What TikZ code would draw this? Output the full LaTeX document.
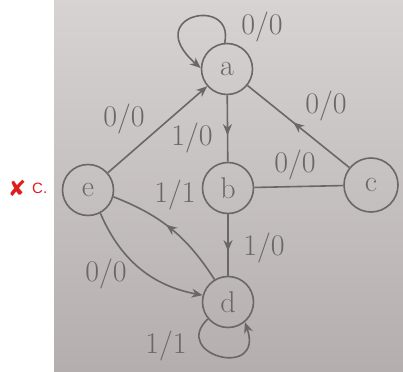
\documentclass[tikz,border=0pt]{standalone}
\usepackage{fontspec}
\newfontfamily\uisans{Liberation Sans}
\newfontfamily\symfont{DejaVu Sans}
\usetikzlibrary{arrows.meta,decorations.markings}
\definecolor{ink}{RGB}{108,103,103}
\definecolor{paperTop}{RGB}{216,211,211}
\definecolor{paperBot}{RGB}{180,174,175}
\definecolor{wrongred}{RGB}{222,30,30}
\begin{document}
\begin{tikzpicture}[x=1pt,y=-1pt,
  st/.style={circle,draw=ink,line width=1.6pt,minimum size=51pt,inner sep=0pt,text=ink,font=\fontsize{30}{30}\selectfont},
  lbl/.style={text=ink,font=\fontsize{30}{30}\selectfont,inner sep=0pt},
  edgeline/.style={draw=ink,line width=1.6pt},
  tip/.style={-{Stealth[length=11pt,width=9pt]}},
  midtip/.style={postaction={decorate},decoration={markings,mark=at position #1 with {\arrow{Stealth[length=11pt,width=9pt]}}}}]
\useasboundingbox (0,0) rectangle (403,371);
\shade[top color=paperTop,bottom color=paperBot] (54,0) rectangle (403,371);
% states
\node[st] (a) at (227,69) {a};
\node[st] (b) at (228,188) {b};
\node[st,minimum size=54pt] (c) at (371,185) {c};
\node[st] (e) at (88,190) {e};
\node[st] (d) at (228,302) {d};
% transitions
\draw[edgeline,tip] (a.95) .. controls (235,-5) and (140,15) .. (a.178);
\draw[edgeline,tip] (e) -- (a);
\draw[edgeline,midtip=0.6] (a) -- (b);
\draw[edgeline,midtip=0.55] (c) -- (a);
\draw[edgeline] (b) -- (c);
\draw[edgeline,midtip=0.6] (b) -- (d);
\draw[edgeline,midtip=0.55] (d.121) to[bend right=18] (e.-15);
\draw[edgeline,tip] (e.-62) to[bend right=28] (d.165);
\draw[edgeline,tip] (d.-140) .. controls (170,355) and (265,380) .. (d.-50);
% labels
\node[lbl] (l1) at (262,27) {0/0};
\node[lbl] (l2) at (124,119) {0/0};
\node[lbl] (l3) at (192,138) {1/0};
\node[lbl] (l4) at (326,106) {0/0};
\node[lbl] (l5) at (295,165) {0/0};
\node[lbl] (l6) at (175,195) {1/1};
\node[lbl] (l7) at (264,248) {1/0};
\node[lbl] (l8) at (106,274) {0/0};
\node[lbl] (l9) at (166,346) {1/1};
% answer mark
\node[text=wrongred,font=\symfont\fontsize{22}{22}\selectfont,inner sep=0pt] (xm) at (17,188) {✘};
\node[text=wrongred,font=\uisans\fontsize{15}{15}\selectfont,inner sep=0pt,anchor=west] (cl) at (32,188) {C.};
\end{tikzpicture}
\end{document}
